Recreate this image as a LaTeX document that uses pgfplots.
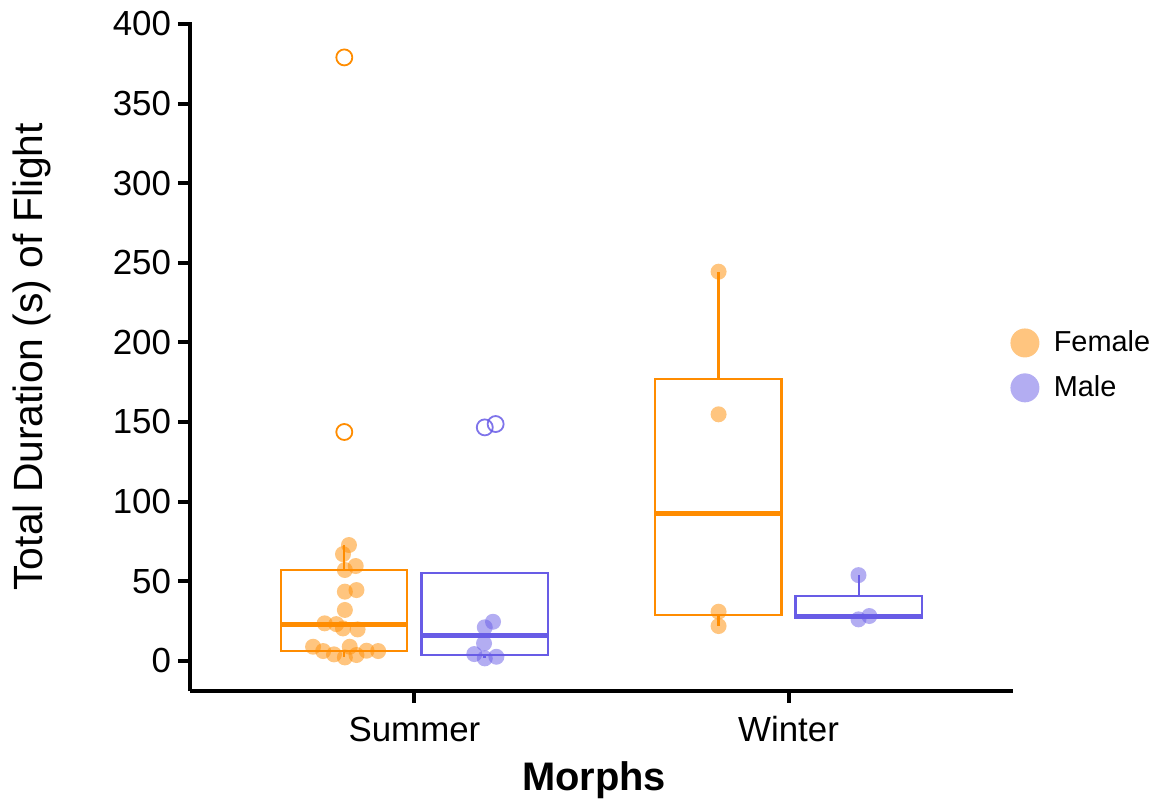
\documentclass[border=0pt]{standalone}
\usepackage{fontspec}
\setmainfont{Liberation Sans}
\usepackage{pgfplots}
\pgfplotsset{compat=1.18}
\definecolor{fcol}{RGB}{255,140,0}
\definecolor{mcol}{RGB}{104,92,230}
\definecolor{fcolL}{RGB}{255,197,127}
\definecolor{mcolL}{RGB}{179,173,242}
\begin{document}
\begin{tikzpicture}
\path[use as bounding box] (-95bp,-55bp) rectangle (486.5bp,345.5bp);
\begin{axis}[
  at={(0,0)}, anchor=south west,
  width=411.5bp, height=334.3bp, scale only axis,
  xmin=0.4, xmax=2.6, ymin=-19, ymax=401,
  axis x line*=bottom, axis y line*=left,
  axis line style={line width=2bp, black, -},
  xtick={1,2}, xticklabels={Summer,Winter},
  ytick={0,50,...,400},
  tick align=outside, major tick length=6bp,
  tick style={line width=2bp, black},
  tick label style={font=\fontsize{17.5}{20}\selectfont},
  /pgf/number format/assume math mode=true,
  xticklabel style={anchor=base, yshift=-19bp},
  yticklabel style={anchor=east},
  every axis x label/.style={at={(axis description cs:0.491,-0.1481)}, anchor=base, font=\fontsize{20}{24}\selectfont\bfseries},
  every axis y label/.style={at={(axis description cs:-0.1798,0.5)}, rotate=90, anchor=base, font=\fontsize{20.5}{24}\selectfont},
  xlabel={Morphs},
  ylabel={Total Duration (s) of Flight},
  clip=false,
  legend style={draw=none, fill=none, at={(axis description cs:0.9964,0.545)}, anchor=north west,
    font=\fontsize{14.5}{16}\selectfont, row sep=6.5bp, inner sep=0pt},
  legend cell align=left,
  boxline/.style={line width=1.1bp, line join=miter, no marks, forget plot},
  medline/.style={line width=2.4bp, no marks, forget plot},
]
% ---- Summer female box
\addplot[fcol, boxline] coordinates {(0.644,6.3) (0.981,6.3) (0.981,57) (0.644,57) (0.644,6.3)} -- cycle;
\addplot[fcol, medline] coordinates {(0.644,23) (0.981,23)};
\addplot[fcol, boxline] coordinates {(0.8125,57) (0.8125,72.7)};
\addplot[fcol, boxline] coordinates {(0.8125,6.3) (0.8125,2.1)};
% ---- Summer male box
\addplot[mcol, boxline] coordinates {(1.01875,3.8) (1.35625,3.8) (1.35625,55) (1.01875,55) (1.01875,3.8)} -- cycle;
\addplot[mcol, medline] coordinates {(1.01875,15.9) (1.35625,15.9)};
\addplot[mcol, boxline] coordinates {(1.1875,3.8) (1.1875,1.5)};
% ---- Winter female box
\addplot[fcol, boxline] coordinates {(1.644,28.5) (1.981,28.5) (1.981,177.2) (1.644,177.2) (1.644,28.5)} -- cycle;
\addplot[fcol, medline] coordinates {(1.644,92.7) (1.981,92.7)};
\addplot[fcol, boxline] coordinates {(1.8125,177.2) (1.8125,244.4)};
\addplot[fcol, boxline] coordinates {(1.8125,28.5) (1.8125,21.8)};
% ---- Winter male box
\addplot[mcol, boxline] coordinates {(2.01875,27.1) (2.35625,27.1) (2.35625,40.9) (2.01875,40.9) (2.01875,27.1)} -- cycle;
\addplot[mcol, medline] coordinates {(2.01875,28.1) (2.35625,28.1)};
\addplot[mcol, boxline] coordinates {(2.1875,40.9) (2.1875,53.8)};
\addplot[mcol, boxline] coordinates {(2.1875,27.1) (2.1875,26)};
% outliers
\addplot[fcol, only marks, mark=o, mark size=4bp, mark options={line width=0.9bp}, forget plot]
  coordinates {(0.8125,379) (0.8125,143.7)};
\addplot[mcol, only marks, mark=o, mark size=4bp, mark options={line width=0.9bp, draw opacity=0.85}, forget plot]
  coordinates {(1.188,146.6) (1.217,148.7)};
% jittered points female
\addplot[fcol, only marks, mark=*, mark size=4bp, mark options={draw opacity=0, fill opacity=0.5}, forget plot]
  coordinates {
  (0.825,72.7) (0.809,67) (0.843,59.5) (0.814,57) (0.814,43.4) (0.845,44.4) (0.814,31.9)
  (0.760,23.5) (0.791,23) (0.809,20.3) (0.848,19.7) (0.729,8.8) (0.756,6.1) (0.785,4.0)
  (0.814,2.1) (0.827,8.8) (0.845,3.6) (0.872,6.3) (0.903,6.1)
  (1.813,244.4) (1.813,154.8) (1.813,30.8) (1.813,21.8)
  };
% jittered points male
\addplot[mcol, only marks, mark=*, mark size=4bp, mark options={draw opacity=0, fill opacity=0.5}, forget plot]
  coordinates {
  (1.210,24.5) (1.188,21) (1.186,10.9) (1.160,4.2) (1.188,1.5) (1.219,2.5)
  (2.187,53.8) (2.187,26) (2.216,28.1)
  };
\addlegendimage{legend image code/.code={\path[fill=fcolL, draw=none] (0.3cm,0) circle (7.25bp); \path (0.3cm+12.25bp,0);}}
\addlegendentry{Female}
\addlegendimage{legend image code/.code={\path[fill=mcolL, draw=none] (0.3cm,0) circle (7.25bp); \path (0.3cm+12.25bp,0);}}
\addlegendentry{Male}
\end{axis}
\end{tikzpicture}
\end{document}
